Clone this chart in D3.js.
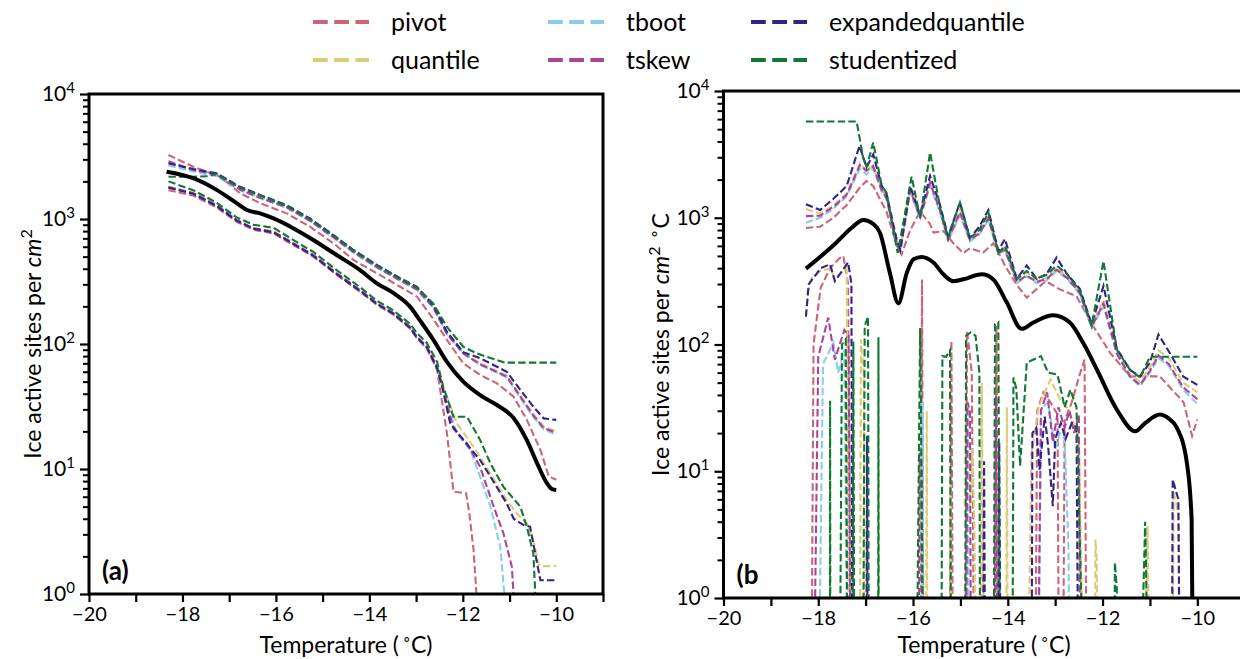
<!DOCTYPE html>
<html><head><meta charset="utf-8">
<script src="https://cdn.jsdelivr.net/npm/d3@7"></script>
<style>
body{margin:0;background:#fff;}
svg{display:block;font-family:Lato, "Open Sans", sans-serif;}
</style></head>
<body><svg id="chart" width="1240" height="659"></svg>
<script>
// ---------- categories / styling keys ----------
const methods = ["pivot","quantile","tboot","tskew","expandedquantile","studentized"];
const colors  = ["#CC6677","#DDCC77","#88CCEE","#AA4499","#332288","#117733"];
const xTickLabels = [-20,-18,-16,-14,-12,-10];
const yDecades = [0,1,2,3,4];
const Z = 0.001; // non-positive bound (drawn off the bottom of the log axis)

// ---------- panel (a): cumulative spectrum [T, value] ----------
const aMedian = [[-18.34,2390],[-17.77,2120],[-17.27,1710],[-16.84,1340],[-16.62,1180],[-16.34,1110],[-16.05,1010],[-15.63,845],[-15.20,680],[-14.70,515],[-14.20,390],[-13.84,306],[-13.48,255],[-13.13,199],[-12.91,153],[-12.63,108],[-12.34,72],[-11.99,50],[-11.63,39],[-11.27,32.5],[-10.91,25.5],[-10.63,17],[-10.41,11.1],[-10.20,7.7],[-10.09,6.9],[-10.0,6.8]];

const aPivotUp = [[-18.30,3250],[-17.77,2620],[-17.19,2180],[-16.77,1610],[-16.34,1340],[-15.77,1110],[-15.27,867],[-14.77,640],[-14.34,470],[-13.84,368],[-13.34,287],[-12.98,239],[-12.63,158],[-12.34,108],[-11.99,70],[-11.63,56.5],[-11.27,48.4],[-10.91,37.8],[-10.63,24.7],[-10.34,14.2],[-10.16,8.7],[-10.0,8.2]];
const aQuantUp = [[-18.30,2750],[-17.77,2450],[-17.27,2250],[-16.77,1740],[-16.34,1500],[-15.77,1250],[-15.27,975],[-14.77,720],[-14.34,548],[-13.84,415],[-13.34,326],[-12.98,276],[-12.63,198],[-12.34,122],[-11.99,85],[-11.63,70],[-11.06,56],[-10.77,39],[-10.49,27.5],[-10.27,21.8],[-10.0,20]];
const aTbootUp = [[-18.30,2680],[-17.77,2400],[-17.27,2200],[-16.77,1700],[-16.34,1470],[-15.77,1230],[-15.27,960],[-14.77,708],[-14.34,538],[-13.84,408],[-13.34,320],[-12.98,270],[-12.63,194],[-12.34,120],[-11.99,84],[-11.63,68],[-11.06,54],[-10.77,37],[-10.49,26],[-10.27,20.8],[-10.0,18.8]];
const aTskewUp = [[-18.30,2900],[-17.77,2470],[-17.27,2260],[-16.77,1720],[-16.34,1480],[-15.77,1240],[-15.27,968],[-14.77,715],[-14.34,543],[-13.84,412],[-13.34,323],[-12.98,273],[-12.63,196],[-12.34,121],[-11.99,84],[-11.63,69],[-11.06,55],[-10.77,38],[-10.49,26.8],[-10.27,21.3],[-10.0,19.5]];
const aExpUp   = [[-18.30,2790],[-17.77,2510],[-17.27,2320],[-16.77,1810],[-16.34,1560],[-15.77,1290],[-15.27,1010],[-14.77,745],[-14.34,565],[-13.84,430],[-13.34,336],[-12.98,287],[-12.63,205],[-12.34,125],[-11.99,86],[-11.63,77],[-11.06,60],[-10.77,43],[-10.49,31.5],[-10.27,25.4],[-10.0,24.7]];
const aStudUp  = [[-18.30,2180],[-17.77,2180],[-17.45,2200],[-17.27,2300],[-16.77,1780],[-16.34,1540],[-15.77,1270],[-15.27,995],[-14.77,735],[-14.34,558],[-13.84,425],[-13.34,332],[-12.98,282],[-12.63,210],[-12.34,137],[-11.99,95],[-11.70,84],[-11.27,74.5],[-11.1,71],[-10.0,71]];

const aPivotLo = [[-18.30,1700],[-17.77,1540],[-17.27,1240],[-16.84,950],[-16.48,820],[-16.05,765],[-15.63,620],[-15.20,500],[-14.70,358],[-14.20,262],[-13.84,206],[-13.48,171],[-13.13,133],[-12.98,111],[-12.77,92],[-12.55,62],[-12.45,35.6],[-12.34,19.3],[-12.2,6.6],[-11.93,6.4],[-11.86,4.4],[-11.77,2.25],[-11.70,0.9],[-11.68,0.3]];
const aQuantLo = [[-18.30,1820],[-17.77,1620],[-17.27,1300],[-16.84,985],[-16.48,848],[-16.05,795],[-15.63,645],[-15.20,518],[-14.70,370],[-14.20,272],[-13.84,213],[-13.48,177],[-13.13,138],[-12.98,115],[-12.77,96],[-12.55,67],[-12.45,49],[-12.13,23.2],[-11.77,15.1],[-11.41,9.2],[-11.06,5.65],[-10.84,4.4],[-10.63,3.67],[-10.49,2.7],[-10.38,1.76],[-10.34,1.67],[-10.0,1.67]];
const aTbootLo = [[-18.30,1790],[-17.77,1600],[-17.27,1280],[-16.84,975],[-16.48,838],[-16.05,785],[-15.63,635],[-15.20,510],[-14.70,365],[-14.20,268],[-13.84,210],[-13.48,175],[-13.13,136],[-12.98,113],[-12.77,94],[-12.55,64],[-12.45,46],[-12.13,19.3],[-11.84,14.2],[-11.63,8.7],[-11.41,5.0],[-11.2,2.4],[-11.06,0.6],[-11.04,0.3]];
const aTskewLo = [[-18.30,1800],[-17.77,1610],[-17.27,1290],[-16.84,980],[-16.48,842],[-16.05,790],[-15.63,640],[-15.20,514],[-14.70,367],[-14.20,270],[-13.84,211],[-13.48,176],[-13.13,137],[-12.98,114],[-12.77,95],[-12.55,65],[-12.45,47],[-12.2,21],[-11.91,16],[-11.63,10.4],[-11.34,5.0],[-11.13,3.05],[-10.95,1.65],[-10.88,0.6],[-10.86,0.3]];
const aExpLo   = [[-18.30,1780],[-17.77,1590],[-17.27,1270],[-16.84,970],[-16.48,835],[-16.05,780],[-15.63,632],[-15.20,508],[-14.70,362],[-14.20,266],[-13.84,209],[-13.48,174],[-13.13,135],[-12.98,112],[-12.77,94],[-12.55,64],[-12.45,47],[-12.27,23.2],[-11.99,17.1],[-11.63,11.8],[-11.41,8.7],[-11.06,5.3],[-10.91,4.0],[-10.70,3.56],[-10.56,3.45],[-10.45,2.1],[-10.34,1.29],[-10.0,1.29]];
const aStudLo  = [[-18.30,2000],[-17.77,1700],[-17.27,1350],[-16.84,1030],[-16.48,900],[-16.05,850],[-15.63,680],[-15.20,545],[-14.70,390],[-14.20,285],[-13.84,222],[-13.48,185],[-13.13,145],[-12.98,122],[-12.77,102],[-12.55,72],[-12.42,45.5],[-12.2,26.2],[-11.91,26.2],[-11.63,17.1],[-11.41,11.1],[-11.13,7.2],[-10.77,5.0],[-10.63,3.45],[-10.49,2.1],[-10.42,0.6],[-10.40,0.3]];

// ---------- panel (b): differential spectrum [T, value] ----------
const bMedian = [[-18.26,397],[-17.65,620],[-17.3,830],[-17.05,961],[-16.85,900],[-16.70,764],[-16.49,369],[-16.31,211],[-16.13,369],[-15.99,470],[-15.82,490],[-15.57,443],[-15.36,358],[-15.15,316],[-14.94,327],[-14.55,358],[-14.31,327],[-14.02,214],[-13.71,133],[-13.46,149],[-13.04,170],[-12.69,149],[-12.41,103],[-12.12,63.5],[-11.70,30.7],[-11.31,20.7],[-11.1,24],[-10.79,28],[-10.6,26],[-10.43,22],[-10.22,11.6],[-10.12,4.15],[-10.10,0.5]];

const bPivotUp = [[-18.26,830],[-17.96,850],[-17.68,1000],[-17.40,1260],[-17.12,1740],[-16.98,1950],[-16.84,1780],[-16.66,1320],[-16.56,1120],[-16.34,600],[-16.24,513],[-16.06,800],[-15.85,1120],[-15.64,890],[-15.57,764],[-15.36,785],[-15.15,630],[-14.94,525],[-14.80,575],[-14.52,531],[-14.30,630],[-14.06,420],[-13.81,295],[-13.60,234],[-13.2,316],[-12.9,272],[-12.55,240],[-12.2,140],[-11.84,86],[-11.42,56],[-11.0,56],[-10.79,56],[-10.29,35],[-10.11,19],[-10.0,25.6]];
const bQuantUp = [[-18.26,1170],[-17.96,1080],[-17.68,1250],[-17.40,1560],[-17.12,2700],[-16.98,2300],[-16.84,2600],[-16.66,1700],[-16.56,1450],[-16.34,640],[-16.27,550],[-16.06,1700],[-15.85,1000],[-15.64,1950],[-15.43,1150],[-15.26,690],[-15.01,1150],[-14.80,700],[-14.60,770],[-14.41,1020],[-14.20,540],[-14.06,590],[-13.81,320],[-13.60,370],[-13.39,320],[-13.18,335],[-12.97,400],[-12.75,345],[-12.48,262],[-12.23,142],[-11.98,225],[-11.70,88],[-11.42,58],[-11.21,51],[-11.0,66],[-10.82,90],[-10.6,78],[-10.3,50],[-10.0,42]];
const bTbootUp = [[-18.26,915],[-17.96,1000],[-17.68,1180],[-17.40,1480],[-17.12,2450],[-16.98,2200],[-16.84,2450],[-16.66,1600],[-16.56,1400],[-16.34,610],[-16.27,540],[-16.06,1600],[-15.85,980],[-15.64,1800],[-15.43,1100],[-15.26,660],[-15.01,1050],[-14.80,650],[-14.60,740],[-14.41,960],[-14.20,520],[-14.06,550],[-13.81,305],[-13.60,345],[-13.39,305],[-13.18,320],[-12.97,380],[-12.75,330],[-12.48,250],[-12.23,135],[-11.98,200],[-11.70,84],[-11.42,55],[-11.21,47],[-11.0,60],[-10.82,78],[-10.6,68],[-10.3,44],[-10.0,34]];
const bTskewUp = [[-18.26,1030],[-17.96,1040],[-17.68,1220],[-17.40,1520],[-17.12,2600],[-16.98,2350],[-16.84,2550],[-16.66,1650],[-16.56,1430],[-16.34,625],[-16.27,545],[-16.06,1650],[-15.85,1010],[-15.64,1880],[-15.43,1140],[-15.26,670],[-15.01,1100],[-14.80,670],[-14.60,750],[-14.41,990],[-14.20,530],[-14.06,560],[-13.81,312],[-13.60,350],[-13.39,312],[-13.18,328],[-12.97,390],[-12.75,335],[-12.48,255],[-12.23,138],[-11.98,210],[-11.70,85],[-11.42,56],[-11.21,48],[-11.0,62],[-10.82,82],[-10.6,70],[-10.3,46],[-10.0,37]];
const bExpUp   = [[-18.26,1280],[-17.96,1150],[-17.68,1410],[-17.40,1780],[-17.13,3690],[-16.98,2500],[-16.84,3160],[-16.66,1780],[-16.56,1550],[-16.34,660],[-16.27,560],[-16.06,1780],[-15.85,1050],[-15.64,2140],[-15.43,1260],[-15.26,710],[-15.01,1320],[-14.80,690],[-14.60,850],[-14.41,1150],[-14.20,550],[-14.06,680],[-13.81,330],[-13.60,420],[-13.39,330],[-13.18,360],[-12.97,485],[-12.75,360],[-12.48,275],[-12.23,145],[-11.98,290],[-11.70,93],[-11.42,63],[-11.21,56],[-11.0,72],[-10.82,120],[-10.6,88],[-10.3,56],[-10.0,48]];
const bStudUp  = [[-18.26,5750],[-17.19,5750],[-17.05,2950],[-16.98,2500],[-16.84,3930],[-16.66,1780],[-16.56,1580],[-16.34,560],[-16.32,530],[-16.03,2110],[-15.85,1000],[-15.64,3270],[-15.43,1200],[-15.26,700],[-15.01,1320],[-14.80,690],[-14.60,800],[-14.41,1100],[-14.20,525],[-14.06,600],[-13.81,330],[-13.60,380],[-13.39,330],[-13.18,355],[-12.97,420],[-12.75,360],[-12.48,265],[-12.23,141],[-11.98,455],[-11.70,91],[-11.42,63],[-11.21,55],[-11.0,80],[-10.0,80]];

const bPivotLo = [[-18.18,Z],[-18.1,100],[-17.95,280],[-17.75,400],[-17.55,480],[-17.47,500],[-17.37,300],[-17.3,Z],[-15.86,Z],[-15.81,325],[-15.76,Z],[-15.25,Z],[-15.19,107],[-15.13,Z],[-14.93,Z],[-14.86,128],[-14.76,60],[-14.66,Z],[-14.3,Z],[-14.24,140],[-14.16,Z],[-13.46,Z],[-13.38,30],[-13.25,42],[-13.1,35],[-12.95,28],[-12.89,Z],[-12.87,Z],[-12.8,25],[-12.65,35],[-12.5,55],[-12.38,76],[-12.3,Z]];
const bQuantLo = [[-18.24,250],[-18.15,330],[-17.95,380],[-17.75,400],[-17.65,330],[-17.4,400],[-17.32,Z],[-17.14,Z],[-17.1,110],[-17.04,60],[-17.0,Z],[-15.74,Z],[-15.71,30],[-15.68,Z],[-15.22,Z],[-15.2,7.9],[-15.18,Z],[-14.88,Z],[-14.85,20],[-14.8,5],[-14.75,15],[-14.7,3],[-14.65,Z],[-14.58,Z],[-14.55,50],[-14.45,Z],[-14.05,Z],[-14.02,32],[-13.98,Z],[-13.67,Z],[-13.5,14],[-13.35,32],[-13.1,53],[-12.9,37],[-12.7,30],[-12.5,18],[-12.3,Z],[-12.17,Z],[-12.15,2.9],[-12.12,1.9],[-12.1,Z],[-11.25,Z],[-11.05,3.7],[-10.93,Z],[-10.55,Z],[-10.5,7],[-10.4,4.5],[-10.3,Z]];
const bTbootLo = [[-18.07,Z],[-17.9,70],[-17.68,103],[-17.58,60],[-17.45,90],[-17.33,Z],[-15.82,Z],[-15.8,36],[-15.76,Z],[-14.9,Z],[-14.85,32],[-14.78,Z],[-13.4,Z],[-13.3,31],[-13.15,35],[-13.0,15],[-12.9,20],[-12.8,18],[-12.72,2.5],[-12.65,Z]];
const bTskewLo = [[-18.17,Z],[-18.0,80],[-17.79,163],[-17.65,76],[-17.45,130],[-17.36,118],[-17.28,Z],[-15.9,Z],[-15.86,14],[-15.82,10],[-15.78,Z],[-14.92,Z],[-14.85,35],[-14.8,30],[-14.75,Z],[-14.3,Z],[-14.25,39],[-14.2,Z],[-13.43,Z],[-13.3,30],[-13.17,42],[-13.05,17],[-12.93,32],[-12.8,22],[-12.7,30],[-12.6,20],[-12.5,28],[-12.44,Z]];
const bExpLo   = [[-18.26,166],[-18.2,300],[-17.95,400],[-17.75,430],[-17.65,316],[-17.37,445],[-17.3,300],[-17.27,Z],[-17.0,Z],[-16.97,19],[-16.95,Z],[-14.55,Z],[-14.5,12],[-14.45,Z],[-14.22,Z],[-14.18,17],[-14.12,Z],[-13.52,Z],[-13.48,20],[-13.40,22],[-13.33,10.3],[-13.22,27],[-13.15,16],[-13.05,5.3],[-13.0,18],[-12.88,24],[-12.78,18],[-12.65,24],[-12.55,22],[-12.47,Z],[-10.56,Z],[-10.52,8.6],[-10.4,6],[-10.33,Z]];
const bStudLo  = [[-17.76,Z],[-17.75,36],[-17.74,Z],[-17.58,Z],[-17.5,100],[-17.42,110],[-17.35,Z],[-17.29,Z],[-17.26,105],[-17.22,Z],[-17.08,Z],[-17.02,140],[-16.95,166],[-16.92,Z],[-16.74,Z],[-16.73,114],[-16.72,Z],[-15.98,Z],[-15.85,135],[-15.72,Z],[-15.42,Z],[-15.38,81],[-15.3,80],[-15.22,90],[-15.18,Z],[-14.92,Z],[-14.88,117],[-14.78,125],[-14.68,117],[-14.6,60],[-14.57,Z],[-14.32,Z],[-14.27,144],[-14.2,150],[-14.14,Z],[-13.92,Z],[-13.88,55],[-13.82,45],[-13.74,11],[-13.6,72],[-13.3,81],[-13.15,60],[-12.95,58],[-12.8,32],[-12.68,44],[-12.55,32],[-12.25,Z],[-11.76,Z],[-11.74,1.9],[-11.7,1.2],[-11.65,Z],[-11.35,Z],[-11.1,4.0],[-10.93,Z]];

// ---------- layout ----------
const svg = d3.select("#chart");
const FS = 20;

const panels = [
  {id:"a", left:89, right:603, top:94, bottom:594, label:"(a)", unitC:false,
   median:aMedian,
   bounds:[[aPivotLo,aPivotUp],[aQuantLo,aQuantUp],[aTbootLo,aTbootUp],[aTskewLo,aTskewUp],[aExpLo,aExpUp],[aStudLo,aStudUp]]},
  {id:"b", left:723.5, right:1244.7, top:91, bottom:598, label:"(b", unitC:true,
   median:bMedian,
   bounds:[[bPivotLo,bPivotUp],[bQuantLo,bQuantUp],[bTbootLo,bTbootUp],[bTskewLo,bTskewUp],[bExpLo,bExpUp],[bStudLo,bStudUp]]}
];

const defs = svg.append("defs");

panels.forEach(p => {
  const x = d3.scaleLinear().domain([-20,-9]).range([p.left, p.right]);
  const y = d3.scaleLog().domain([1,1e4]).range([p.bottom, p.top]);
  defs.append("clipPath").attr("id","clip-"+p.id).append("rect")
    .attr("x",p.left).attr("y",p.top).attr("width",p.right-p.left).attr("height",p.bottom-p.top);
  const g = svg.append("g");
  const plot = g.append("g").attr("clip-path",`url(#clip-${p.id})`);
  const line = d3.line().x(d=>x(d[0])).y(d=>y(d[1]));
  p.bounds.forEach((pair,i) => {
    pair.forEach(series => {
      plot.append("path").datum(series).attr("d",line)
        .attr("fill","none").attr("stroke",colors[i]).attr("stroke-width",2.1)
        .attr("stroke-dasharray","7.4,3.2");
    });
  });
  plot.append("path").datum(p.median).attr("d", line.curve(d3.curveMonotoneX))
    .attr("fill","none").attr("stroke","#000").attr("stroke-width",4).attr("stroke-linejoin","round");

  // x axis
  const xa = g.append("g").attr("transform",`translate(0,${p.bottom})`)
    .call(d3.axisBottom(x).tickValues(d3.range(-20,-8,1)).tickSize(8).tickPadding(5)
      .tickFormat(d => xTickLabels.includes(d) ? "\u2212"+Math.abs(d) : ""));
  xa.select(".domain").remove();
  xa.selectAll("line").attr("stroke","#000").attr("stroke-width",2.2);
  xa.selectAll("text").attr("font-size",FS).attr("fill","#000").attr("font-family","Lato");

  // y axis majors
  const majors = yDecades.map(e => Math.pow(10,e));
  const minors = [];
  yDecades.slice(0,4).forEach(e => { for (let m=2;m<=9;m++) minors.push(m*Math.pow(10,e)); });
  const ya = g.append("g").attr("transform",`translate(${p.left},0)`)
    .call(d3.axisLeft(y).tickValues(majors).tickSize(9).tickPadding(5).tickFormat(""));
  ya.select(".domain").remove();
  ya.selectAll("line").attr("stroke","#000").attr("stroke-width",2.2);
  ya.selectAll(".tick text").each(function(d){
    const t = d3.select(this).attr("font-size",21).attr("fill","#000").attr("font-family","Lato");
    t.text("10");
    t.append("tspan").attr("dy","-0.55em").attr("font-size",15).text(Math.round(Math.log10(d)));
  });
  const ym = g.append("g").attr("transform",`translate(${p.left},0)`)
    .call(d3.axisLeft(y).tickValues(minors).tickSize(6).tickFormat(""));
  ym.select(".domain").remove();
  ym.selectAll("line").attr("stroke","#000").attr("stroke-width",2);

  // frame
  g.append("rect").attr("x",p.left).attr("y",p.top).attr("width",p.right-p.left).attr("height",p.bottom-p.top)
    .attr("fill","none").attr("stroke","#000").attr("stroke-width",3);

  // panel label
  g.append("text").attr("x",p.left+13).attr("y",p.bottom-14).attr("font-size",26).attr("font-weight","bold")
    .attr("font-family","Lato").text(p.label);

  // x title
  const cx = (p.left+p.right)/2;
  const xt = g.append("text").attr("x",cx).attr("y",653).attr("text-anchor","middle")
    .attr("font-size",23).attr("font-family","Lato");
  xt.append("tspan").text("Temperature (");
  xt.append("tspan").attr("dx",3).attr("dy",-9).attr("font-size",15).text("\u2218");
  xt.append("tspan").attr("dy",9).text("C)");

  // y title
  const cy = (p.top+p.bottom)/2;
  const tx = p.id==="a" ? 41 : 669;
  const yt = g.append("text").attr("transform",`translate(${tx},${cy}) rotate(-90)`)
    .attr("text-anchor","middle").attr("font-size",23).attr("font-family","Lato");
  yt.append("tspan").text("Ice active sites per ");
  yt.append("tspan").attr("font-style","italic").text("cm");
  yt.append("tspan").attr("dy",-9).attr("font-size",16).text("2");
  if (p.unitC) {
    yt.append("tspan").attr("dx",8).attr("font-size",16).text("\u2218");
    yt.append("tspan").attr("dy",9).text("C");
  }
});

// ---------- legend ----------
const legCols = [313, 548, 751];
const legRows = [22, 60];
const leg = svg.append("g");
methods.forEach((m,i) => {
  const cx = legCols[Math.floor(i/2)], cy = legRows[i%2];
  leg.append("line").attr("x1",cx).attr("x2",cx+56).attr("y1",cy).attr("y2",cy)
    .attr("stroke",colors[i]).attr("stroke-width",4).attr("stroke-dasharray","14.8,6.4");
  leg.append("text").attr("x",cx+78).attr("y",cy).attr("dy","0.35em")
    .attr("font-size",25).attr("font-family","Lato").text(m);
});
</script>
</body></html>
